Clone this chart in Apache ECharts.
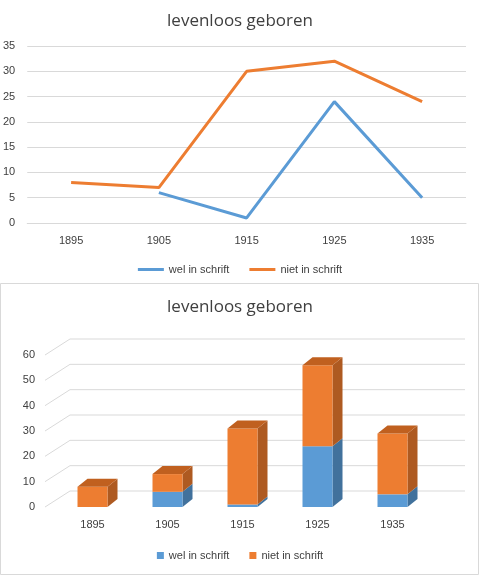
<!DOCTYPE html><html><head><meta charset="utf-8">
<script src="https://cdn.jsdelivr.net/npm/echarts@6/dist/echarts.min.js"></script>
<style>html,body{margin:0;padding:0;background:#fff}#c{width:480px;height:576px}</style></head><body><div id="c"></div>
<script>
const categories=['1895','1905','1915','1925','1935'];
const wel=[null,6,1,24,5];
const niet=[8,7,30,32,24];
const barTicks=[0,10,20,30,40,50,60];
const BLUE='#5B9BD5',ORANGE='#ED7D31',BLUE_D='#41719C',ORANGE_D='#AE5A21',ORANGE_T='#C0601F';
const DX=10,DY=-8;
const chart=echarts.init(document.getElementById('c'));
function seg(idx,lo,hi,front,side,top,isTop){
  return {type:'custom',xAxisIndex:1,yAxisIndex:1,z:5,
    data:categories.map((c,i)=>[i,lo[i],hi[i]]),
    renderItem:(p,api)=>{
      const i=api.value(0),a=api.value(1),b=api.value(2);
      if(b<=a) return;
      const w=api.size([1,0])[0]*0.4;
      const p0=api.coord([i,a]),p1=api.coord([i,b]);
      const x0=p0[0]-w/2,x1=p0[0]+w/2,y0=p0[1],y1=p1[1];
      const ch=[
        {type:'polygon',shape:{points:[[x1,y0],[x1+DX,y0+DY],[x1+DX,y1+DY],[x1,y1]]},style:{fill:side}},
        {type:'rect',shape:{x:x0,y:y1,width:w,height:y0-y1},style:{fill:front}}];
      if(isTop) ch.push({type:'polygon',shape:{points:[[x0,y1],[x0+DX,y1+DY],[x1+DX,y1+DY],[x1,y1]]},style:{fill:top}});
      return {type:'group',children:ch};
    }};
}
const zero=categories.map(()=>0);
const w0=wel.map(v=>v||0);
const tot=niet.map((v,i)=>v+w0[i]);
chart.setOption({
  animation:false,
  title:[{text:'levenloos geboren',left:'center',top:8,textStyle:{fontSize:17,fontWeight:'normal',color:'#404040',fontFamily:'Open Sans'}},
         {text:'levenloos geboren',left:'center',top:294,textStyle:{fontSize:17,fontWeight:'normal',color:'#404040',fontFamily:'Open Sans'}}],
  legend:[{top:259,left:'center',itemWidth:26,itemHeight:3,icon:'rect',itemGap:20,textStyle:{fontSize:11,color:'#404040'},data:['wel in schrift','niet in schrift']},
          {top:545,left:'center',itemWidth:7,itemHeight:7,icon:'rect',itemGap:20,textStyle:{fontSize:11,color:'#404040'},
           data:[{name:'wel in schrift',itemStyle:{color:BLUE}},{name:'niet in schrift',itemStyle:{color:ORANGE}}]}],
  grid:[{left:22,right:14,top:46,height:177},{left:55,width:375,top:355,height:152}],
  xAxis:[{type:'category',data:categories,gridIndex:0,axisLine:{lineStyle:{color:'#d9d9d9'}},axisTick:{show:false},axisLabel:{color:'#404040',fontSize:11,margin:12}},
         {type:'category',data:categories,gridIndex:1,axisLine:{show:false},axisTick:{show:false},axisLabel:{color:'#404040',fontSize:11,margin:12}}],
  yAxis:[{type:'value',gridIndex:0,min:0,max:35,interval:5,axisLabel:{color:'#404040',fontSize:11,margin:12},splitLine:{lineStyle:{color:'#d9d9d9'}}},
         {type:'value',gridIndex:1,min:0,max:60,interval:10,axisLabel:{color:'#404040',fontSize:11,margin:20},splitLine:{show:false}}],
  series:[
    {name:'wel in schrift',type:'line',data:wel,color:BLUE,symbol:'none',lineStyle:{width:3,color:BLUE},connectNulls:false},
    {name:'niet in schrift',type:'line',data:niet,color:ORANGE,symbol:'none',lineStyle:{width:3,color:ORANGE}},
    {type:'custom',xAxisIndex:1,yAxisIndex:1,z:1,data:barTicks.map(v=>[v]),
     renderItem:(p,api)=>{const y=api.coord([0,api.value(0)])[1];const L=55,R=465;
       return {type:'polyline',shape:{points:[[L-10,y],[L+15,y-16],[R,y-16]]},style:{stroke:'#d9d9d9',lineWidth:1,fill:null}};}},
    Object.assign(seg(0,zero,w0,BLUE,BLUE_D,BLUE,false),{name:'wel in schrift',color:BLUE}),
    Object.assign(seg(1,w0,tot,ORANGE,ORANGE_D,ORANGE_T,true),{name:'niet in schrift',color:ORANGE})
  ],
  graphic:[{type:'rect',shape:{x:0.5,y:283.5,width:478,height:291},style:{fill:null,stroke:'#d9d9d9'}}]
});
</script></body></html>
